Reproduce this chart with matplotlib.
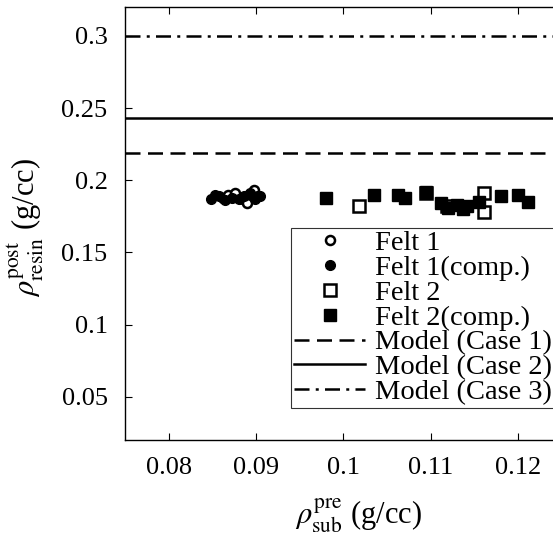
import matplotlib
matplotlib.use("Agg")
import matplotlib.pyplot as plt

plt.rcParams['font.family'] = ['Liberation Serif', 'DejaVu Serif']
plt.rcParams['mathtext.fontset'] = 'stix'

# Felt 1 (open circles) and compressed Felt 1 (filled circles)
felt1_x = [0.0862, 0.0868, 0.0876, 0.0885, 0.0890, 0.0898, 0.0902]
felt1_y = [0.188, 0.190, 0.191, 0.187, 0.184, 0.193, 0.189]
felt1c_x = [0.0848, 0.0853, 0.0858, 0.0864, 0.0872, 0.0880, 0.0886, 0.0893, 0.0899, 0.0905]
felt1c_y = [0.187, 0.190, 0.189, 0.186, 0.188, 0.187, 0.189, 0.191, 0.187, 0.189]

# Felt 2 (open squares) and compressed Felt 2 (filled squares)
felt2_x = [0.1018, 0.1095, 0.1118, 0.1161, 0.1161]
felt2_y = [0.182, 0.191, 0.182, 0.191, 0.178]
felt2c_x = [0.0980, 0.1035, 0.1063, 0.1071, 0.1095, 0.1112, 0.1120, 0.1130,
            0.1137, 0.1141, 0.1155, 0.1180, 0.1200, 0.1211]
felt2c_y = [0.188, 0.190, 0.190, 0.188, 0.192, 0.184, 0.181, 0.183,
            0.180, 0.182, 0.185, 0.189, 0.190, 0.185]

# model predictions
case1 = 0.219
case2 = 0.243
case3 = 0.300

fig = plt.figure(figsize=(5.53, 5.38), dpi=100)
ax = fig.add_axes([0.226, 0.182, 0.79, 0.805])

ax.plot(felt1_x, felt1_y, 'o', mfc='white', mec='black', mew=1.8, ms=6.5, label='Felt 1')
ax.plot(felt1c_x, felt1c_y, 'o', color='black', ms=7, label='Felt 1(comp.)')
ax.plot(felt2_x, felt2_y, 's', mfc='white', mec='black', mew=1.8, ms=8.5, label='Felt 2')
ax.plot(felt2c_x, felt2c_y, 's', color='black', ms=9, label='Felt 2(comp.)')
ax.axhline(case1, color='black', lw=1.8, ls=(0, (6, 3)), label='Model (Case 1)')
ax.axhline(case2, color='black', lw=1.8, ls='-', label='Model (Case 2)')
ax.axhline(case3, color='black', lw=1.8, ls=(0, (6, 2.5, 1.2, 2.5)), label='Model (Case 3)')

ax.set_xlim(0.075, 0.125)
ax.set_ylim(0.02, 0.32)
ax.set_xticks([0.08, 0.09, 0.1, 0.11, 0.12])
ax.set_xticklabels(['0.08', '0.09', '0.1', '0.11', '0.12'])
ax.set_yticks([0.05, 0.1, 0.15, 0.2, 0.25, 0.3])
ax.set_yticklabels(['0.05', '0.1', '0.15', '0.2', '0.25', '0.3'])
ax.tick_params(direction='in', top=True, right=True, labelsize=19, length=5)
ax.tick_params(axis='x', pad=12)
ax.tick_params(axis='y', pad=12.5)
for s in ax.spines.values():
    s.set_linewidth(1.0)

ax.set_xlabel(r'$\rho^{\rm pre}_{\rm sub}$ (g/cc)', fontsize=22)
ax.set_ylabel(r'$\rho^{\rm post}_{\rm resin}$ (g/cc)', fontsize=22)
ax.xaxis.set_label_coords(0.534, -0.13)
ax.yaxis.set_label_coords(-0.18, 0.49)

leg = ax.legend(loc='lower right', bbox_to_anchor=(0.985, 0.074), fontsize=20.5,
                frameon=True, fancybox=False, edgecolor='black', handlelength=2.5,
                borderpad=0.1, labelspacing=-0.04, handletextpad=0.35, borderaxespad=0)
leg.get_frame().set_linewidth(0.8)

fig.savefig('out.png', dpi=100)
